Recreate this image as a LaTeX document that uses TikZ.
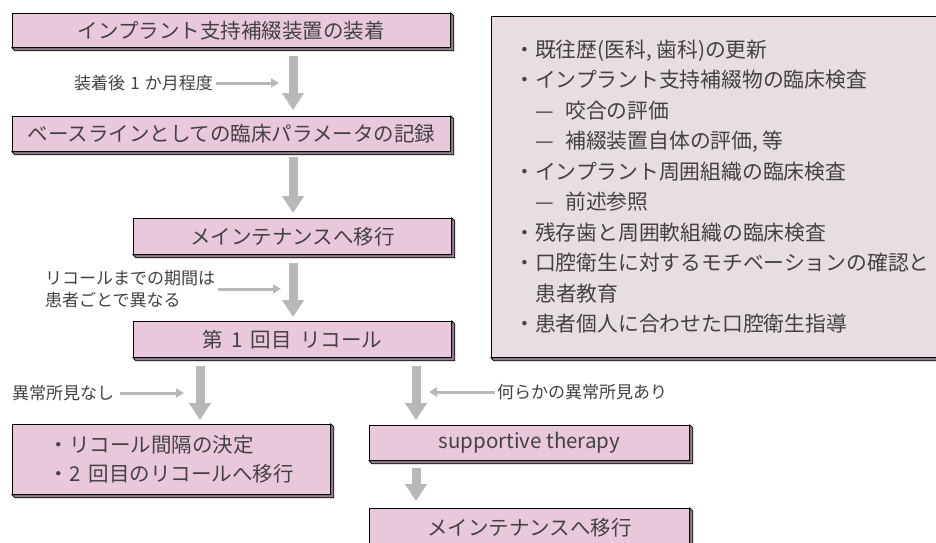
\documentclass[tikz,border=0pt]{standalone}
\usepackage{fontspec}
\setmainfont{Noto Sans CJK JP}
\usetikzlibrary{arrows.meta,backgrounds}
\definecolor{facepink}{RGB}{234,200,220}
\definecolor{rbfill}{RGB}{231,221,227}
\definecolor{extr}{RGB}{150,128,143}
\definecolor{arrgray}{RGB}{184,184,184}
\definecolor{txt}{RGB}{66,66,66}
\definecolor{magline}{RGB}{204,0,128}
\newcommand{\gap}{\hspace{0.4em}}
\newcommand{\lgap}{\hspace{0.3em}}
\newcommand{\subdash}{\makebox[1.45em][l]{—}}
\tikzset{
  pbox/.style={draw=black, line width=0.8pt, fill=facepink, text=txt, inner sep=0pt,
    anchor=north west, font=\fontsize{20.5}{29}\selectfont},
  rbox/.style={pbox, fill=rbfill},
  lbl/.style={text=txt, inner sep=0pt, font=\fontsize{17}{22}\selectfont},
  rline/.style={text=txt, inner sep=0pt, anchor=base west, font=\fontsize{20.8}{30}\selectfont},
  bigarr/.style={draw=arrgray, line width=9pt, -{Triangle[width=21pt,length=17pt]}},
  smarr/.style={draw=arrgray, line width=3pt, -{Triangle[width=9pt,length=8pt]}},
  mline/.style={draw=magline, line width=3pt},
  extrude/.style={draw=black, line width=0.7pt, fill=extr}
}
\begin{document}
\begin{tikzpicture}[x=1pt,y=-1pt]
\useasboundingbox (0,0) rectangle (936,542);
\clip (0,0) rectangle (936,542);
\fill[white] (0,0) rectangle (936,542);
% boxes
\node[pbox, minimum width=438pt, minimum height=34pt] (b1) at (12,13) {インプラント支持補綴装置の装着};
\node[pbox, minimum width=438pt, minimum height=35pt] (b2) at (12,116) {ベースラインとしての臨床パラメータの記録};
\node[pbox, minimum width=318pt, minimum height=36pt] (b3) at (133,218) {メインテナンスへ移行};
\node[pbox, minimum width=318pt, minimum height=36pt] (b4) at (133,321) {第\gap 1\gap 回目\gap リコール};
\node[pbox, minimum width=318pt, minimum height=70pt, align=left] (b5) at (12,424) {・リコール間隔の決定\\・2\gap 回目のリコールへ移行};
\node[pbox, minimum width=320pt, minimum height=35pt] (b6) at (369,425) {supportive therapy};
\node[pbox, minimum width=320pt, minimum height=42pt, text depth=6pt] (b7) at (369,508) {メインテナンスへ移行};
\node[rbox, minimum width=470pt, minimum height=341pt] (rb) at (491,16) {};
% text of the right box
\node[rline] (r1) at (514,57) {・既往歴(医科, 歯科)の更新};
\node[rline] (r2) at (514,87.5) {・インプラント支持補綴物の臨床検査};
\node[rline] (r3) at (535,118) {\subdash 咬合の評価};
\node[rline] (r4) at (535,148.5) {\subdash 補綴装置自体の評価, 等};
\node[rline] (r5) at (514,179) {・インプラント周囲組織の臨床検査};
\node[rline] (r6) at (535,209.5) {\subdash 前述参照};
\node[rline] (r7) at (514,240) {・残存歯と周囲軟組織の臨床検査};
\node[rline] (r8) at (514,270.5) {・口腔衛生に対するモチベーションの確認と};
\node[rline] (r9) at (535,301) {患者教育};
\node[rline] (r10) at (514,331.5) {・患者個人に合わせた口腔衛生指導};
% extrusions
\foreach \n in {b1,b2,b3,b4,b5,b6,b7,rb}{
  \filldraw[extrude] (\n.south west) -- ([shift={(3,3)}]\n.south west) -- ([shift={(3,3)}]\n.south east)
    -- ([shift={(3,3)}]\n.north east) -- (\n.north east) -- (\n.south east) -- cycle;
}
% connector to right box
\begin{scope}[on background layer]
\draw[mline] (b4.east) -- (rb.west |- b4.east);
\end{scope}
% main arrows
\coordinate (ax1) at (293,0);
\coordinate (ax2) at (200,0);
\coordinate (ax3) at (416,0);
\draw[bigarr, shorten <=8pt, shorten >=6pt] (b1.south -| ax1) -- (b2.north -| ax1);
\draw[bigarr, shorten <=5pt, shorten >=5pt] (b2.south -| ax1) -- (b3.north -| ax1);
\draw[bigarr, shorten <=8pt, shorten >=4pt] (b3.south -| ax1) -- (b4.north -| ax1);
\draw[bigarr, shorten <=8pt, shorten >=4pt] (b4.south -| ax2) -- (b5.north -| ax2);
\draw[bigarr, shorten <=8pt, shorten >=5pt] (b4.south -| ax3) -- (b6.north -| ax3);
\draw[bigarr, shorten <=7pt, shorten >=7pt] (b6.south -| ax3) -- (b7.north -| ax3);
% labels with small arrows
\node[lbl, anchor=east] (l1) at (213,83) {装着後\lgap 1\lgap か月程度};
\coordinate (t1) at (279,83);
\draw[smarr] ([xshift=3pt]l1.east) -- (t1);
\node[lbl, anchor=west, align=left] (l2) at (45,289) {リコールまでの期間は\\患者ごとで異なる};
\coordinate (t2) at (281,289);
\draw[smarr] ([xshift=3pt]l2.east |- t2) -- (t2);
\node[lbl, anchor=west] (l3) at (12,393) {異常所見なし};
\coordinate (t3) at (184,393);
\draw[smarr] ([xshift=6pt]l3.east) -- (t3);
\node[lbl, anchor=west] (l4) at (497,392) {何らかの異常所見あり};
\coordinate (t4) at (429,392);
\draw[smarr] ([xshift=-2pt]l4.west) -- (t4);
\end{tikzpicture}
\end{document}
